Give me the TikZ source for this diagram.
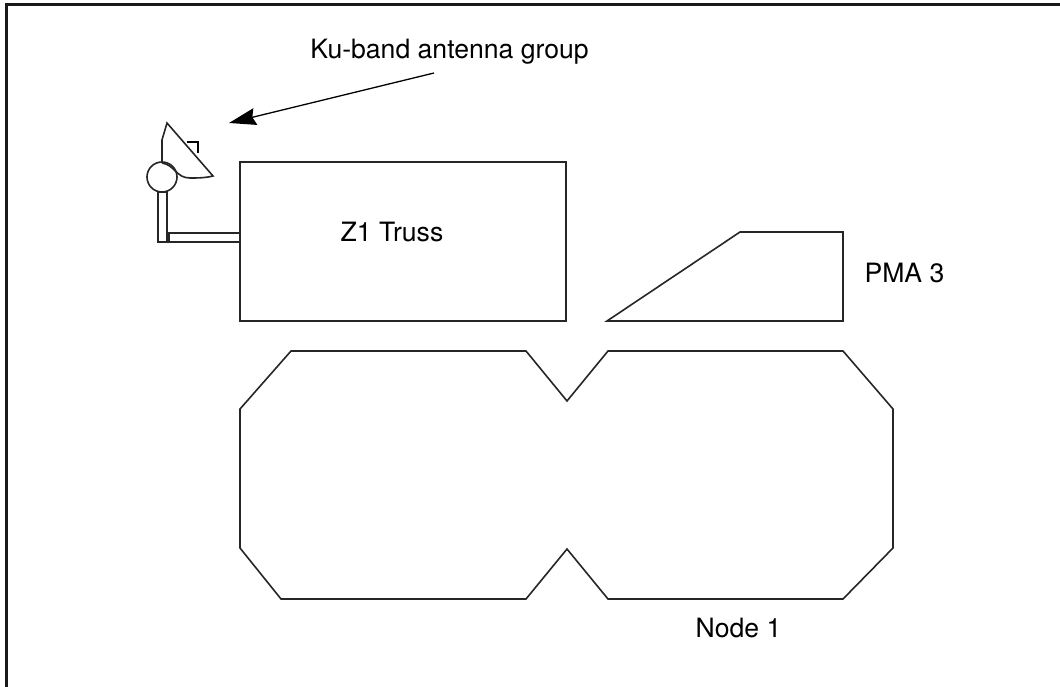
\documentclass[tikz,border=0pt]{standalone}
\usepackage{fontspec}
\setmainfont{TeX Gyre Heros}
\usetikzlibrary{arrows.meta}
\tikzset{
  part/.style={draw=black!85, line width=1.6pt, line join=miter},
  thin part/.style={draw=black, line width=1.3pt},
  frameline/.style={draw=black!90, line width=2.7pt},
  caption/.style={font=\fontsize{26.6}{30}\selectfont, inner sep=0pt},
}

\begin{document}
\begin{tikzpicture}[x=1pt,y=-1pt]
      \useasboundingbox (0,0) rectangle (1060,687);

      \draw[frameline] (6.2,687) -- (6.2,4.8) -- (1060,4.8);

      \node[caption] (KU) at (449.5,52) {Ku-band antenna group};
      \node[caption] (Z1) at (392,232) {Z1 Truss};
      \node[caption] (PMA) at (904.5,273) {PMA 3};
      \node[caption] (NODE) at (738.5,628) {Node 1};

      \coordinate (tail) at (434,73);
      \coordinate (tip) at (229,123);
      \draw[thin part, -{Stealth[length=27pt,width=17pt,inset=3pt]}] (tail) -- (tip);

      % truss
      \draw[part] (240,162) rectangle (566,321);

      % pma
      \draw[part] (607,321) -- (740,232) -- (843,232) -- (843,321) -- cycle;

      % node
      \draw[part] (291,351) -- (526,351) -- (567,401) -- (608,351) -- (843,351)
        -- (893,409) -- (893,548) -- (843,599) -- (608,599) -- (567,549)
        -- (526,599) -- (281,599) -- (240,548) -- (240,409) -- cycle;

      % antenna
      \draw[part] (162,163) -- (162,140) -- (167,123) -- (213,176)
        .. controls (205,178) and (198,178) .. (190,178)
        .. controls (176,178) and (175,165) .. (162,163);
      \draw[thin part] (187,142) -- (198,142) -- (198,153);
      \draw[part] (162,177) circle (15);
      \draw[part] (158,192) -- (167,192) -- (167,242);
      \draw[part] (158,192) -- (158,242) -- (240,242);
      \draw[part] (169,241) -- (169,233) -- (240,233);
    \end{tikzpicture}
\end{document}
